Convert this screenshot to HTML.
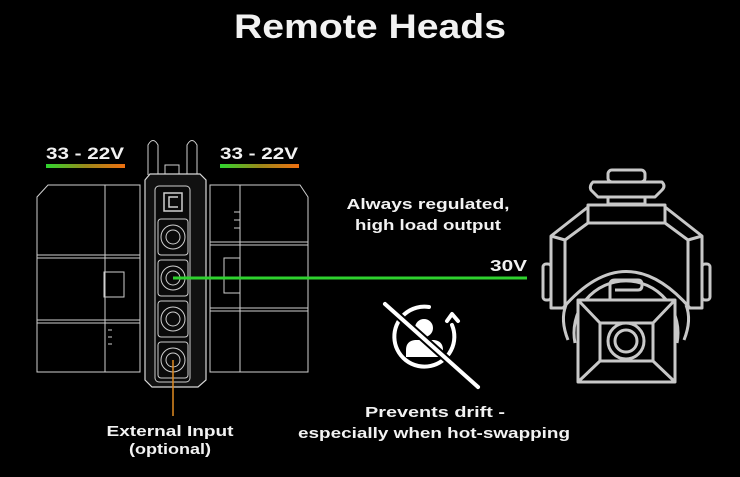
<!DOCTYPE html>
<html><head><meta charset="utf-8"><style>
html,body{margin:0;padding:0;background:#000;}
svg{display:block}
text{font-family:"Liberation Sans",sans-serif;fill:#f2f2f2}
</style></head><body>
<svg width="740" height="477" viewBox="0 0 740 477" xmlns="http://www.w3.org/2000/svg">
<defs>
<linearGradient id="g" x1="0" x2="1"><stop offset="0" stop-color="#2fd62f"/><stop offset="0.5" stop-color="#9a8a1a"/><stop offset="1" stop-color="#f07010"/></linearGradient>
</defs>
<rect width="740" height="477" fill="#000"/>
<text x="370" y="38" text-anchor="middle" font-size="34" font-weight="bold" textLength="272" lengthAdjust="spacingAndGlyphs">Remote Heads</text>

<text x="46" y="159" font-size="17" font-weight="bold" textLength="78" lengthAdjust="spacingAndGlyphs">33 - 22V</text>
<rect x="46" y="164" width="79" height="4" fill="url(#g)"/>
<text x="220" y="159" font-size="17" font-weight="bold" textLength="78" lengthAdjust="spacingAndGlyphs">33 - 22V</text>
<rect x="220" y="164" width="79" height="4" fill="url(#g)"/>

<g fill="none" stroke="#cfcfcf" stroke-width="1">
 <path d="M48 185 L140 185 L140 372 L37 372 L37 197 Z"/>
 <line x1="37" y1="255" x2="140" y2="255"/><line x1="37" y1="258" x2="140" y2="258"/>
 <line x1="37" y1="320" x2="140" y2="320"/><line x1="37" y1="323" x2="140" y2="323"/>
 <line x1="105" y1="185" x2="105" y2="372"/>
 <rect x="104" y="272" width="20" height="25"/>
 <line x1="108" y1="330" x2="112" y2="330"/><line x1="108" y1="337" x2="112" y2="337"/><line x1="108" y1="344" x2="112" y2="344"/>
 <path d="M210 185 L300 185 L308 197 L308 372 L210 372 Z"/>
 <line x1="210" y1="242" x2="308" y2="242"/><line x1="210" y1="245" x2="308" y2="245"/>
 <line x1="210" y1="308" x2="308" y2="308"/><line x1="210" y1="311" x2="308" y2="311"/>
 <line x1="240" y1="185" x2="240" y2="372"/>
 <rect x="224" y="258" width="16" height="35"/>
 <line x1="234" y1="212" x2="240" y2="212"/><line x1="234" y1="220" x2="240" y2="220"/><line x1="234" y1="228" x2="240" y2="228"/>
 <path d="M148 175 L148 145 Q153 136 158 145 L158 175"/>
 <path d="M187 175 L187 145 Q192 136 197 145 L197 175"/>
 <rect x="165" y="165" width="14" height="10"/>
</g>
<path d="M145 180 L150 174 L200 174 L206 180 L206 380 L198 387 L152 387 L145 380 Z" fill="#111" stroke="#d8d8d8" stroke-width="1.2"/>
<rect x="155" y="186" width="35" height="196" rx="4" fill="#0a0a0a" stroke="#cfcfcf"/>
<rect x="164" y="193" width="18" height="18" fill="none" stroke="#cfcfcf" stroke-width="1.5"/>
<path d="M178 197 L169 197 L169 207 L178 207" fill="none" stroke="#cfcfcf" stroke-width="1.5"/>
<g fill="none" stroke="#cfcfcf">
 <rect x="158" y="219" width="30" height="36" rx="3"/><circle cx="173" cy="237" r="12"/><circle cx="173" cy="237" r="7"/>
 <rect x="158" y="260" width="30" height="36" rx="3"/><circle cx="173" cy="278" r="12"/><circle cx="173" cy="278" r="7"/>
 <rect x="158" y="301" width="30" height="36" rx="3"/><circle cx="173" cy="319" r="12"/><circle cx="173" cy="319" r="7"/>
 <rect x="158" y="342" width="30" height="36" rx="3"/><circle cx="173" cy="360" r="12"/><circle cx="173" cy="360" r="7"/>
</g>

<line x1="173" y1="278" x2="527" y2="278" stroke="#2ed12e" stroke-width="3"/>
<line x1="173" y1="360" x2="173" y2="416" stroke="#e08a20" stroke-width="1.5"/>

<text x="428" y="209" text-anchor="middle" font-size="15" font-weight="bold" textLength="163" lengthAdjust="spacingAndGlyphs">Always regulated,</text>
<text x="428" y="230" text-anchor="middle" font-size="15" font-weight="bold" textLength="146" lengthAdjust="spacingAndGlyphs">high load output</text>
<text x="527" y="271" text-anchor="end" font-size="16" font-weight="bold" textLength="37" lengthAdjust="spacingAndGlyphs">30V</text>

<text x="170" y="436" text-anchor="middle" font-size="15" font-weight="bold" textLength="127" lengthAdjust="spacingAndGlyphs">External Input</text>
<text x="170" y="454" text-anchor="middle" font-size="15" font-weight="bold" textLength="82" lengthAdjust="spacingAndGlyphs">(optional)</text>
<text x="435" y="417" text-anchor="middle" font-size="15" font-weight="bold" textLength="140" lengthAdjust="spacingAndGlyphs">Prevents drift -</text>
<text x="434" y="438" text-anchor="middle" font-size="15" font-weight="bold" textLength="272" lengthAdjust="spacingAndGlyphs">especially when hot-swapping</text>

<!-- drift icon -->
<g stroke="#fff" stroke-width="4" fill="none" stroke-linecap="round" stroke-linejoin="round">
 <path d="M429 307 A30 30 0 1 0 452 325"/>
 <path d="M447 321 L452 314 L458 321"/>
 <line x1="385" y1="304" x2="478" y2="387"/>
</g>
<circle cx="424" cy="328" r="9" fill="#fff"/>
<path d="M406 357 L406 350 Q406 341 415 340 L434 340 Q443 341 443 350 L443 357 Z" fill="#fff"/>
<line x1="385" y1="304" x2="478" y2="387" stroke="#000" stroke-width="8" stroke-dasharray="0 0"/>
<line x1="385" y1="304" x2="478" y2="387" stroke="#fff" stroke-width="4" stroke-linecap="round"/>

<!-- camera head -->
<g fill="none" stroke="#c8c8c8" stroke-width="3" stroke-linejoin="round">
 <rect x="608" y="170" width="37" height="12" rx="4"/>
 <path d="M593 182 L662 182 Q666 186 662 190 L655 197 L598 197 L591 190 Q589 186 593 182 Z"/>
 <rect x="608" y="197" width="37" height="7"/>
 <rect x="588" y="205" width="77" height="18"/>
 <path d="M588 207 L551 236 L551 308 L565 308 L565 240 L588 223"/>
 <path d="M665 207 L702 236 L702 308 L688 308 L688 240 L665 223"/>
 <line x1="551" y1="236" x2="565" y2="240"/><line x1="702" y1="236" x2="688" y2="240"/>
 <rect x="543" y="264" width="8" height="36" rx="3"/>
 <rect x="702" y="264" width="8" height="36" rx="3"/>
 <path d="M575 343 A52 52 0 1 1 677 343"/>
 <path d="M563 308 Q626 235 690 308"/>
 <path d="M568 340 Q560 320 566 305"/><path d="M684 340 Q692 320 686 305"/>
 <rect x="578" y="300" width="97" height="82" fill="#000"/>
 <rect x="600" y="323" width="53" height="38"/>
 <line x1="578" y1="300" x2="600" y2="323"/><line x1="675" y1="300" x2="653" y2="323"/>
 <line x1="578" y1="382" x2="600" y2="361"/><line x1="675" y1="382" x2="653" y2="361"/>
 <circle cx="626" cy="341" r="18"/><circle cx="626" cy="341" r="11"/>
 <path d="M610 299 L610 285 Q610 280 615 280 L638 280 Q642 280 642 285 Q642 290 638 290 L615 290"/>
</g>
</svg>
</body></html>
